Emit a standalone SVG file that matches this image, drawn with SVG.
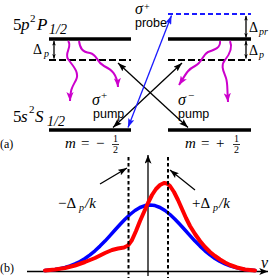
<svg xmlns="http://www.w3.org/2000/svg" width="275" height="278" viewBox="0 0 275 278">
<defs>
<style>
.lvl{stroke:#000;stroke-width:3.5;fill:none}
.dash{stroke:#000;stroke-width:2;stroke-dasharray:7 3;fill:none}
.bdash{stroke:#1a1aff;stroke-width:2;stroke-dasharray:5 3;fill:none}
.arr{stroke:#000;stroke-width:1.3;fill:none}
.barr{stroke:#1a1aff;stroke-width:1.3;fill:none}
.wav{stroke:#cc00cc;stroke-width:2;fill:none}
.vd{stroke:#000;stroke-width:2;stroke-dasharray:3.5 2.5;fill:none}
.m{font-family:"Liberation Serif",serif;font-style:italic;fill:#000}
.r{font-style:normal}
.s{font-family:"Liberation Sans",sans-serif;font-style:normal;fill:#000;font-size:12.5px}
</style>
<marker id="ak" viewBox="0 0 10 7" refX="10" refY="3.5" markerUnits="userSpaceOnUse" markerWidth="9" markerHeight="6.3" orient="auto-start-reverse"><path d="M0,0 L10,3.5 L0,7 L2,3.5 z" fill="#000"/></marker>
<marker id="ab" viewBox="0 0 10 7" refX="10" refY="3.5" markerUnits="userSpaceOnUse" markerWidth="9" markerHeight="6.3" orient="auto-start-reverse"><path d="M0,0 L10,3.5 L0,7 L2,3.5 z" fill="#1a1aff"/></marker>
<marker id="am" viewBox="0 0 10 8" refX="10" refY="4" markerUnits="userSpaceOnUse" markerWidth="9" markerHeight="7.5" orient="auto"><path d="M0,0 L10,4 L0,8 L2.5,4 z" fill="#cc00cc"/></marker>
<marker id="as" viewBox="0 0 10 8" refX="10" refY="4" markerUnits="userSpaceOnUse" markerWidth="4.5" markerHeight="4" orient="auto-start-reverse"><path d="M0,0 L10,4 L0,8 L2.5,4 z" fill="#000"/></marker>
<marker id="ax" viewBox="0 0 10 8" refX="10" refY="4" markerUnits="userSpaceOnUse" markerWidth="9" markerHeight="7" orient="auto"><path d="M0,0 L10,4 L0,8 L2.5,4 z" fill="#000"/></marker>
</defs>

<g id="level-5p-left">
<line class="lvl" x1="49" y1="39" x2="131" y2="39"/>
<text class="m" font-size="17"><tspan class="r" x="13" y="30">5</tspan><tspan x="21" y="30">p</tspan><tspan class="r" x="30" y="22" font-size="11">2</tspan><tspan x="37" y="30">P</tspan><tspan x="49" y="34" font-size="14">1/2</tspan></text>
</g>
<g id="level-5p-right"><line class="lvl" x1="168" y1="39" x2="251" y2="39"/></g>
<g id="virtual-left"><line class="dash" x1="49" y1="60" x2="131" y2="60"/></g>
<g id="virtual-right"><line class="dash" x1="168" y1="60" x2="251" y2="60"/></g>
<g id="probe-level"><line class="bdash" x1="168" y1="14" x2="251" y2="14"/></g>
<g id="level-5s-left">
<line class="lvl" x1="49" y1="130" x2="131" y2="130"/>
<text class="m" font-size="17"><tspan class="r" x="13" y="122">5</tspan><tspan x="21" y="122">s</tspan><tspan class="r" x="29" y="113" font-size="11">2</tspan><tspan x="35" y="122">S</tspan><tspan x="47" y="126" font-size="14">1/2</tspan></text>
<text class="m" font-size="15"><tspan x="65" y="148">m</tspan><tspan class="r" x="81" y="148">=</tspan><tspan class="r" x="96" y="148">−</tspan><tspan class="r" x="113" y="142" font-size="10">1</tspan><tspan class="r" x="113" y="153" font-size="10">2</tspan></text>
<line x1="112" y1="144.5" x2="119" y2="144.5" stroke="#000" stroke-width="0.8"/>
</g>
<g id="level-5s-right">
<line class="lvl" x1="168" y1="130" x2="251" y2="130"/>
<text class="m" font-size="15"><tspan x="185" y="148">m</tspan><tspan class="r" x="201" y="148">=</tspan><tspan class="r" x="216" y="148">+</tspan><tspan class="r" x="234" y="142" font-size="10">1</tspan><tspan class="r" x="234" y="153" font-size="10">2</tspan></text>
<line x1="233" y1="144.5" x2="240" y2="144.5" stroke="#000" stroke-width="0.8"/>
</g>

<g id="labels-top">
<text class="m" font-size="14"><tspan class="r" x="33" y="54">Δ</tspan><tspan x="44" y="57" font-size="10">p</tspan></text>
<text class="m" font-size="14"><tspan class="r" x="249" y="32">Δ</tspan><tspan x="259" y="35" font-size="10">pr</tspan></text>
<text class="m" font-size="14"><tspan class="r" x="249" y="55">Δ</tspan><tspan x="259" y="58" font-size="10">p</tspan></text>
<text class="m" font-size="16"><tspan x="135" y="14">σ</tspan><tspan class="r" x="144" y="10" font-size="10">+</tspan><tspan class="s" x="135" y="26.5">probe</tspan></text>
<text class="m" font-size="16"><tspan x="92" y="105">σ</tspan><tspan class="r" x="101" y="99" font-size="11">+</tspan><tspan class="s" x="93" y="117.5">pump</tspan></text>
<text class="m" font-size="16"><tspan x="178" y="105">σ</tspan><tspan class="r" x="188" y="99" font-size="11">−</tspan><tspan class="s" x="178" y="117.5">pump</tspan></text>
<text font-family="Liberation Serif, serif" font-size="12" x="0" y="148">(a)</text>
<text font-family="Liberation Serif, serif" font-size="12" x="0" y="272">(b)</text>
</g>

<g id="connectors">
<line class="arr" x1="54" y1="41" x2="54" y2="58.5" marker-start="url(#as)" marker-end="url(#as)"/>
<line class="arr" x1="246" y1="16" x2="246" y2="37.5" marker-start="url(#as)" marker-end="url(#as)"/>
<line class="arr" x1="246" y1="41" x2="246" y2="58.5" marker-start="url(#as)" marker-end="url(#as)"/>
<line class="arr" x1="188" y1="127.5" x2="118" y2="63" marker-start="url(#ak)" marker-end="url(#ak)"/>
<line class="arr" x1="113" y1="127.5" x2="182" y2="63" marker-start="url(#ak)" marker-end="url(#ak)"/>
<line class="barr" x1="128" y1="127.5" x2="171.5" y2="15.5" marker-start="url(#ab)" marker-end="url(#ab)"/>
<path class="wav" d="M68,41 C73,46 64,53 68,59 C72,65 80,72 76,80 C73,86 70,89 70,101" marker-end="url(#am)"/>
<path class="wav" d="M79,41 C80,48 82,52 90,53 C98,55 96,62 104,66 C112,70 117,74 118,87" marker-end="url(#am)"/>
<path class="wav" d="M220,41 C221,48 214,50 208,52 C202,55 203,62 195,66 C187,70 186,74 179,85" marker-end="url(#am)"/>
<path class="wav" d="M230,41 C233,48 229,55 225,60 C220,66 224,72 226,78 C228,84 227,90 228,102" marker-end="url(#am)"/>
</g>

<g id="graph">
<line class="arr" x1="27" y1="271.5" x2="268" y2="271.5" marker-end="url(#ax)"/>
<line class="arr" x1="148" y1="276" x2="148" y2="155" marker-end="url(#ax)"/>
<text class="m" font-size="16" x="261" y="268">v</text>
<polyline fill="none" stroke="#0000ff" stroke-width="3.5" stroke-linejoin="round" stroke-linecap="round" points="45,270.6 50,270.1 55,269.5 60,268.6 65,267.4 70,265.9 75,263.9 80,261.5 85,258.5 90,254.9 95,250.8 100,246.1 105,241.1 110,235.6 115,230 120,224.5 125,219.2 130,214.5 135,210.5 140,207.5 145,205.6 150,205 155,205.6 160,207.5 165,210.5 170,214.5 175,219.2 180,224.5 185,230 190,235.6 195,241.1 200,246.1 205,250.8 210,254.9 215,258.5 220,261.5 225,263.9 230,265.9 235,267.4 240,268.6 245,269.5 250,270.1 255,270.6"/>
<polyline fill="none" stroke="#ff0000" stroke-width="4" stroke-linejoin="round" stroke-linecap="round" points="45,270.5 55,269.5 65,268 75,265.5 85,262 95,258 105,253 112,250 118,248.5 124,247.5 128,245.5 132,240 136,231 140,221 144,212 148,203 152,195 156,189 160,185 164,183 167,183.5 170,186 174,192 178,200 182,209 186,218 190,226 195,234 200,241 205,247 210,252 215,256 220,259.5 225,262.5 230,265 237,267.5 245,269.5 255,270.5"/>
<line class="vd" x1="128.5" y1="157" x2="128.5" y2="278"/>
<line class="vd" x1="168" y1="157" x2="168" y2="278"/>
<line class="arr" x1="100" y1="184" x2="127" y2="168" marker-end="url(#ak)"/>
<line class="arr" x1="195" y1="190" x2="170" y2="170" marker-end="url(#ak)"/>
<text class="m" font-size="15"><tspan class="r" x="58" y="208">−Δ</tspan><tspan x="79" y="211" font-size="10">p</tspan><tspan x="85" y="208">/k</tspan></text>
<text class="m" font-size="15"><tspan class="r" x="192" y="208">+Δ</tspan><tspan x="213" y="211" font-size="10">p</tspan><tspan x="219" y="208">/k</tspan></text>
</g>
</svg>
